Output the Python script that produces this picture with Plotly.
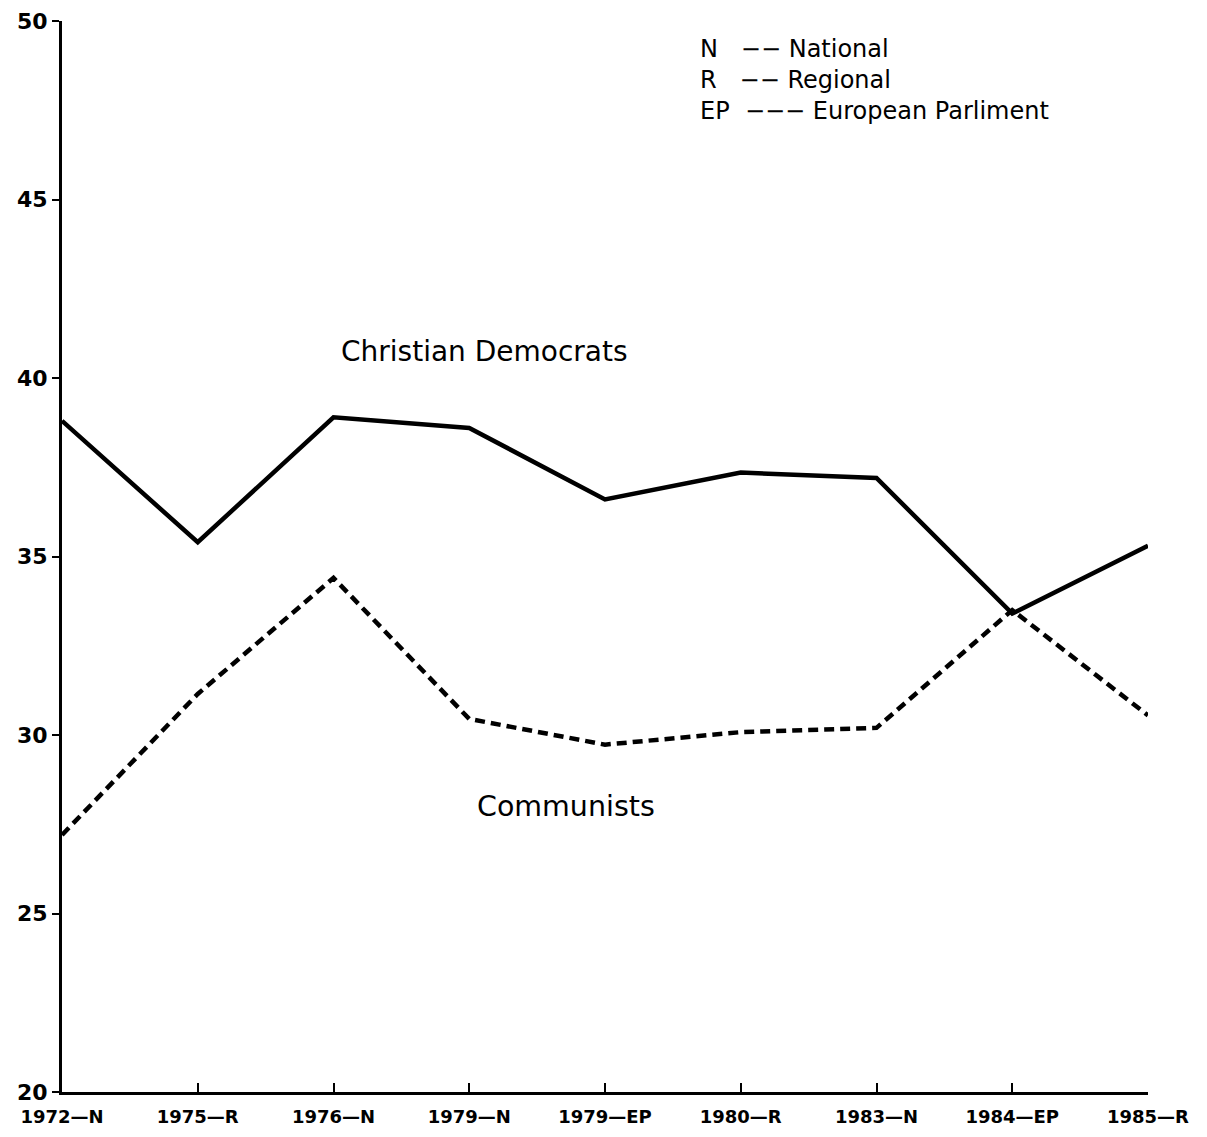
import plotly.graph_objects as go

elections = ["1972\u2014N", "1975\u2014R", "1976\u2014N", "1979\u2014N", "1979\u2014EP",
             "1980\u2014R", "1983\u2014N", "1984\u2014EP", "1985\u2014R"]
christian_democrats = [38.8, 35.4, 38.9, 38.6, 36.6, 37.35, 37.2, 33.4, 35.3]
communists = [27.2, 31.15, 34.4, 30.45, 29.73, 30.08, 30.2, 33.5, 30.55]
y_ticks = [20, 25, 30, 35, 40, 45, 50]

legend_keys = ["N", "R", "EP"]
legend_dashes = ["\u2212\u2212", "\u2212\u2212", "\u2212\u2212\u2212"]
legend_names = ["National", "Regional", "European Parliment"]

FONT = "DejaVu Sans"
NB = "\u00a0"

fig = go.Figure()
fig.add_trace(go.Scatter(x=elections, y=christian_democrats, mode="lines",
                         line=dict(color="black", width=4.5), name="Christian Democrats",
                         showlegend=False))
fig.add_trace(go.Scatter(x=elections, y=communists, mode="lines",
                         line=dict(color="black", width=4.5, dash="10px,6px"), name="Communists",
                         showlegend=False))

fig.update_layout(
    width=1207, height=1137,
    margin=dict(l=54, r=67, t=13, b=53),
    plot_bgcolor="white", paper_bgcolor="white",
    font=dict(family=FONT, color="black"),
    xaxis=dict(type="category", range=[0, 8], showline=True, linecolor="black", linewidth=3,
               ticks="inside", ticklen=9, tickwidth=2, tickcolor="black",
               showgrid=False, zeroline=False, automargin=False, ticklabelstandoff=6,
               ticklabeloverflow="allow",
               tickfont=dict(family=FONT, size=18, color="black", weight="bold")),
    yaxis=dict(range=[20, 50], tickvals=y_ticks, showline=True, linecolor="black", linewidth=3,
               ticks="outside", ticklen=7, tickwidth=2, tickcolor="black",
               showgrid=False, zeroline=False, automargin=False,
               ticklabeloverflow="allow",
               tickfont=dict(family=FONT, size=22, color="black", weight="bold")),
)

fig.add_annotation(x=3.11, y=40.73, xref="x", yref="y", text="Christian Democrats",
                   showarrow=False, font=dict(family=FONT, size=28, color="black"))
fig.add_annotation(x=3.71, y=27.99, xref="x", yref="y", text="Communists",
                   showarrow=False, font=dict(family=FONT, size=28.5, color="black"))

gap_after_key = [3, 3, 2]
gap_after_dash = [1, 1, 1]
rows = []
for key, dsh, name, g1, g2 in zip(legend_keys, legend_dashes, legend_names,
                                  gap_after_key, gap_after_dash):
    rows.append(key + NB * g1 + dsh + NB * g2 + name)
fig.add_annotation(x=0.5856, y=0.945, xref="paper", yref="paper", text="<br>".join(rows),
                   showarrow=False, xanchor="left", yanchor="middle", align="left",
                   font=dict(family=FONT, size=24, color="black"))

fig.write_html("out.html")
